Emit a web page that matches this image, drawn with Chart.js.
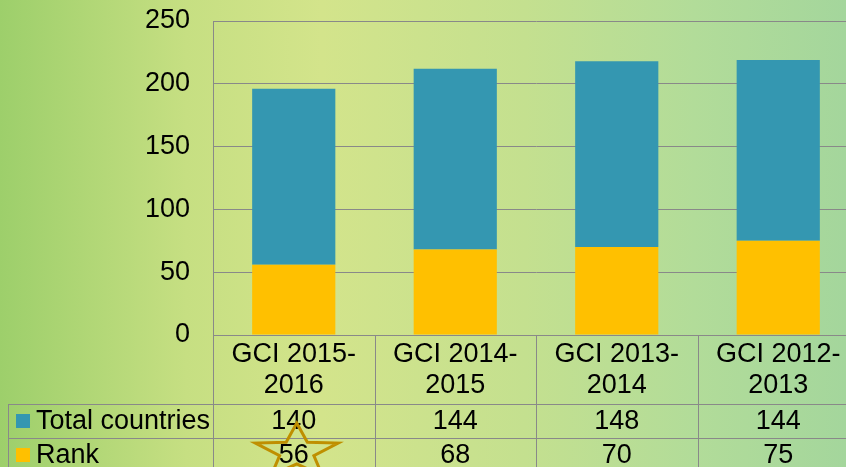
<!DOCTYPE html>
<html>
<head>
<meta charset="utf-8">
<script src="https://cdn.jsdelivr.net/npm/chart.js@4/dist/chart.umd.min.js"></script>
<style>
    html, body { margin: 0; padding: 0; overflow: hidden; width: 846px; height: 467px; }
    body { background: linear-gradient(90deg, #9dcf6b 0%, #c6df82 22%, #d3e48b 38%, #c4e08f 62%, #b2dc99 82%, #a4d69c 100%); }
    canvas { display: block; }
</style>
</head>
<body>
<canvas id="gci-chart" width="860" height="467"></canvas>
<script>
var categories = [['GCI 2015-', '2016'], ['GCI 2014-', '2015'], ['GCI 2013-', '2014'], ['GCI 2012-', '2013']];
var total_values = [140, 144, 148, 144];
var rank_values = [56, 68, 70, 75];
var series_names = ['Total countries', 'Rank'];
var series_colors = ['#3497b1', '#ffc000'];

var FONT = "'Liberation Sans', Arial, sans-serif";
var LINE = '#898989';

// data table under the axis + star on the first rank cell
var tablePlugin = {
    id: 'dataTable',
    afterDraw: function (chart) {
        var ctx = chart.ctx;
        var x = chart.scales.x;
        var area = chart.chartArea;
        var half = (x.getPixelForValue(1) - x.getPixelForValue(0)) / 2;
        var headerBottom = area.bottom + 69;
        var rowH = 34;
        var tableLeft = 8;
        var rows = [
            { name: series_names[0], color: series_colors[0], values: total_values },
            { name: series_names[1], color: series_colors[1], values: rank_values }
        ];

        ctx.save();
        ctx.strokeStyle = LINE;
        ctx.lineWidth = 1;
        ctx.beginPath();
        for (var r = 0; r < 2; r++) {
            var y = Math.round(headerBottom + r * rowH) + 0.5;
            ctx.moveTo(tableLeft, y);
            ctx.lineTo(chart.width, y);
        }
        ctx.moveTo(tableLeft + 0.5, headerBottom);
        ctx.lineTo(tableLeft + 0.5, chart.height);
        for (var i = 0; i < categories.length; i++) {
            var bx = Math.round(x.getPixelForValue(i) + half) + 0.5;
            ctx.moveTo(bx, area.bottom);
            ctx.lineTo(bx, chart.height);
        }
        var lx = Math.round(area.left) + 0.5;
        ctx.moveTo(lx, area.top);
        ctx.lineTo(lx, chart.height);
        ctx.stroke();

        ctx.font = '27px ' + FONT;
        ctx.textBaseline = 'middle';
        rows.forEach(function (row, r) {
            var cy = headerBottom + r * rowH + rowH / 2 + 1;
            ctx.fillStyle = row.color;
            ctx.fillRect(16, cy - 8, 14, 14);
            ctx.fillStyle = '#000';
            ctx.textAlign = 'left';
            ctx.fillText(row.name, 36, cy);
            ctx.textAlign = 'center';
            row.values.forEach(function (v, i) {
                ctx.fillText(String(v), x.getPixelForValue(i), cy);
            });
        });

        // star outline around the first rank value
        var sx = x.getPixelForValue(0) + 3;
        var sy = headerBottom + rowH + 14;
        var R = 29, rIn = 12, stretch = 1.5;
        ctx.beginPath();
        for (var k = 0; k < 10; k++) {
            var ang = -Math.PI / 2 + k * Math.PI / 5;
            var rad = (k % 2 === 0) ? R : rIn;
            var px = sx + Math.cos(ang) * rad * stretch;
            var py = sy + Math.sin(ang) * rad;
            if (k === 0) ctx.moveTo(px, py); else ctx.lineTo(px, py);
        }
        ctx.closePath();
        ctx.strokeStyle = '#bf8f00';
        ctx.lineWidth = 3;
        ctx.lineJoin = 'miter';
        ctx.stroke();
        ctx.restore();
    }
};

var ctx = document.getElementById('gci-chart');
var GciChart = new Chart(ctx, {
    type: 'bar',
    data: {
        labels: categories,
        datasets: [{
            label: series_names[1],
            data: rank_values,
            backgroundColor: series_colors[1],
            borderWidth: 0,
            barPercentage: 0.515,
            categoryPercentage: 1
        }, {
            label: series_names[0],
            data: total_values,
            backgroundColor: series_colors[0],
            borderWidth: 0,
            barPercentage: 0.515,
            categoryPercentage: 1
        }]
    },
    plugins: [tablePlugin],
    options: {
        responsive: false,
        animation: false,
        devicePixelRatio: 1,
        layout: {
            padding: { top: 21, right: 1, left: 0, bottom: 0 }
        },
        plugins: {
            legend: false,
            tooltip: { enabled: false }
        },
        scales: {
            x: {
                stacked: true,
                grid: { display: false, drawTicks: false },
                border: { display: false },
                ticks: {
                    color: '#000',
                    font: { family: FONT, size: 27, lineHeight: 1.15 },
                    padding: 4,
                    maxRotation: 0,
                    autoSkip: false
                },
                afterFit: function (scale) {
                    scale.height = 132;
                    scale.paddingLeft = 0;
                    scale.paddingRight = 0;
                }
            },
            y: {
                stacked: true,
                min: 0,
                max: 250,
                ticks: {
                    stepSize: 50,
                    color: '#000',
                    font: { family: FONT, size: 27 },
                    padding: 23
                },
                grid: { color: LINE, lineWidth: 1, drawTicks: false },
                border: { display: true, color: LINE },
                afterFit: function (scale) {
                    scale.width = 213;
                    scale.paddingTop = 0;
                    scale.paddingBottom = 0;
                }
            }
        }
    }
});
</script>
</body>
</html>
